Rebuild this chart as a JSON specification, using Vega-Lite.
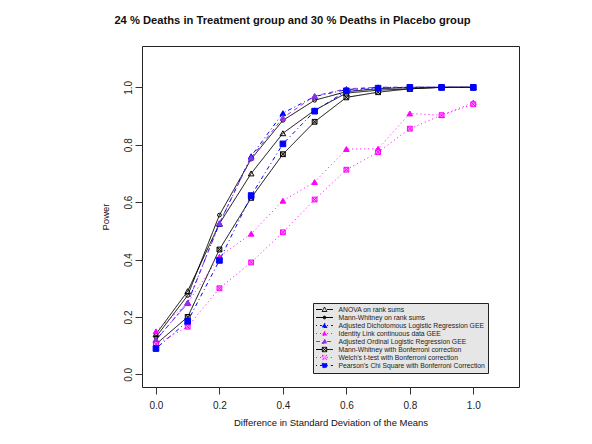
{
  "$schema": "https://vega.github.io/schema/vega-lite/v6.json",
  "width": 377,
  "height": 341,
  "autosize": {"type": "none"},
  "padding": {"left": 142, "top": 46, "right": 73, "bottom": 57},
  "background": "white",
  "title": {"text": "24 % Deaths in Treatment group and  30 % Deaths in Placebo group", "font": "Liberation Sans", "fontSize": 11.2, "fontWeight": "bold", "color": "#111", "anchor": "middle", "dx": -38, "offset": 20},
  "config": {
    "view": {"stroke": "#222", "strokeWidth": 1},
    "font": "Liberation Sans",
    "axis": {"grid": false, "domain": false, "tickColor": "#333", "tickSize": 7, "labelColor": "#222", "titleColor": "#111", "labelFont": "Liberation Sans", "titleFont": "Liberation Sans", "labelFontSize": 10, "titleFontSize": 9.5, "titleFontWeight": "normal"}
  },
  "data": {"values": [
    {"s": "ANOVA on rank sums", "x": 0, "y": 0.14}, {"s": "ANOVA on rank sums", "x": 0.1, "y": 0.29}, {"s": "ANOVA on rank sums", "x": 0.2, "y": 0.525}, {"s": "ANOVA on rank sums", "x": 0.3, "y": 0.70}, {"s": "ANOVA on rank sums", "x": 0.4, "y": 0.84}, {"s": "ANOVA on rank sums", "x": 0.5, "y": 0.92}, {"s": "ANOVA on rank sums", "x": 0.6, "y": 0.98}, {"s": "ANOVA on rank sums", "x": 0.7, "y": 0.99}, {"s": "ANOVA on rank sums", "x": 0.8, "y": 0.995}, {"s": "ANOVA on rank sums", "x": 0.9, "y": 1.0}, {"s": "ANOVA on rank sums", "x": 1.0, "y": 1.0},
    {"s": "Mann-Whitney on rank sums", "x": 0, "y": 0.13}, {"s": "Mann-Whitney on rank sums", "x": 0.1, "y": 0.275}, {"s": "Mann-Whitney on rank sums", "x": 0.2, "y": 0.555}, {"s": "Mann-Whitney on rank sums", "x": 0.3, "y": 0.75}, {"s": "Mann-Whitney on rank sums", "x": 0.4, "y": 0.885}, {"s": "Mann-Whitney on rank sums", "x": 0.5, "y": 0.955}, {"s": "Mann-Whitney on rank sums", "x": 0.6, "y": 0.985}, {"s": "Mann-Whitney on rank sums", "x": 0.7, "y": 0.995}, {"s": "Mann-Whitney on rank sums", "x": 0.8, "y": 1.0}, {"s": "Mann-Whitney on rank sums", "x": 0.9, "y": 1.0}, {"s": "Mann-Whitney on rank sums", "x": 1.0, "y": 1.0},
    {"s": "Adjusted Dichotomous Logistic Regression GEE", "x": 0, "y": 0.12}, {"s": "Adjusted Dichotomous Logistic Regression GEE", "x": 0.1, "y": 0.25}, {"s": "Adjusted Dichotomous Logistic Regression GEE", "x": 0.2, "y": 0.525}, {"s": "Adjusted Dichotomous Logistic Regression GEE", "x": 0.3, "y": 0.76}, {"s": "Adjusted Dichotomous Logistic Regression GEE", "x": 0.4, "y": 0.91}, {"s": "Adjusted Dichotomous Logistic Regression GEE", "x": 0.5, "y": 0.968}, {"s": "Adjusted Dichotomous Logistic Regression GEE", "x": 0.6, "y": 0.992}, {"s": "Adjusted Dichotomous Logistic Regression GEE", "x": 0.7, "y": 1.0}, {"s": "Adjusted Dichotomous Logistic Regression GEE", "x": 0.8, "y": 1.0}, {"s": "Adjusted Dichotomous Logistic Regression GEE", "x": 0.9, "y": 1.0}, {"s": "Adjusted Dichotomous Logistic Regression GEE", "x": 1.0, "y": 1.0},
    {"s": "Identity Link continuous data GEE", "x": 0, "y": 0.15}, {"s": "Identity Link continuous data GEE", "x": 0.1, "y": 0.25}, {"s": "Identity Link continuous data GEE", "x": 0.2, "y": 0.41}, {"s": "Identity Link continuous data GEE", "x": 0.3, "y": 0.49}, {"s": "Identity Link continuous data GEE", "x": 0.4, "y": 0.605}, {"s": "Identity Link continuous data GEE", "x": 0.5, "y": 0.67}, {"s": "Identity Link continuous data GEE", "x": 0.6, "y": 0.785}, {"s": "Identity Link continuous data GEE", "x": 0.7, "y": 0.786}, {"s": "Identity Link continuous data GEE", "x": 0.8, "y": 0.909}, {"s": "Identity Link continuous data GEE", "x": 0.9, "y": 0.903}, {"s": "Identity Link continuous data GEE", "x": 1.0, "y": 0.947},
    {"s": "Adjusted Ordinal Logistic Regression GEE", "x": 0, "y": 0.12}, {"s": "Adjusted Ordinal Logistic Regression GEE", "x": 0.1, "y": 0.248}, {"s": "Adjusted Ordinal Logistic Regression GEE", "x": 0.2, "y": 0.527}, {"s": "Adjusted Ordinal Logistic Regression GEE", "x": 0.3, "y": 0.755}, {"s": "Adjusted Ordinal Logistic Regression GEE", "x": 0.4, "y": 0.894}, {"s": "Adjusted Ordinal Logistic Regression GEE", "x": 0.5, "y": 0.97}, {"s": "Adjusted Ordinal Logistic Regression GEE", "x": 0.6, "y": 0.995}, {"s": "Adjusted Ordinal Logistic Regression GEE", "x": 0.7, "y": 1.0}, {"s": "Adjusted Ordinal Logistic Regression GEE", "x": 0.8, "y": 1.0}, {"s": "Adjusted Ordinal Logistic Regression GEE", "x": 0.9, "y": 1.0}, {"s": "Adjusted Ordinal Logistic Regression GEE", "x": 1.0, "y": 1.0},
    {"s": "Mann-Whitney with Bonferroni correction", "x": 0, "y": 0.105}, {"s": "Mann-Whitney with Bonferroni correction", "x": 0.1, "y": 0.20}, {"s": "Mann-Whitney with Bonferroni correction", "x": 0.2, "y": 0.435}, {"s": "Mann-Whitney with Bonferroni correction", "x": 0.3, "y": 0.615}, {"s": "Mann-Whitney with Bonferroni correction", "x": 0.4, "y": 0.767}, {"s": "Mann-Whitney with Bonferroni correction", "x": 0.5, "y": 0.88}, {"s": "Mann-Whitney with Bonferroni correction", "x": 0.6, "y": 0.965}, {"s": "Mann-Whitney with Bonferroni correction", "x": 0.7, "y": 0.983}, {"s": "Mann-Whitney with Bonferroni correction", "x": 0.8, "y": 0.995}, {"s": "Mann-Whitney with Bonferroni correction", "x": 0.9, "y": 1.0}, {"s": "Mann-Whitney with Bonferroni correction", "x": 1.0, "y": 1.0},
    {"s": "Welch's t-test with Bonferroni correction", "x": 0, "y": 0.105}, {"s": "Welch's t-test with Bonferroni correction", "x": 0.1, "y": 0.166}, {"s": "Welch's t-test with Bonferroni correction", "x": 0.2, "y": 0.30}, {"s": "Welch's t-test with Bonferroni correction", "x": 0.3, "y": 0.39}, {"s": "Welch's t-test with Bonferroni correction", "x": 0.4, "y": 0.495}, {"s": "Welch's t-test with Bonferroni correction", "x": 0.5, "y": 0.609}, {"s": "Welch's t-test with Bonferroni correction", "x": 0.6, "y": 0.713}, {"s": "Welch's t-test with Bonferroni correction", "x": 0.7, "y": 0.774}, {"s": "Welch's t-test with Bonferroni correction", "x": 0.8, "y": 0.856}, {"s": "Welch's t-test with Bonferroni correction", "x": 0.9, "y": 0.903}, {"s": "Welch's t-test with Bonferroni correction", "x": 1.0, "y": 0.941},
    {"s": "Pearson's Chi Square with Bonferroni Correction", "x": 0, "y": 0.09}, {"s": "Pearson's Chi Square with Bonferroni Correction", "x": 0.1, "y": 0.185}, {"s": "Pearson's Chi Square with Bonferroni Correction", "x": 0.2, "y": 0.397}, {"s": "Pearson's Chi Square with Bonferroni Correction", "x": 0.3, "y": 0.623}, {"s": "Pearson's Chi Square with Bonferroni Correction", "x": 0.4, "y": 0.803}, {"s": "Pearson's Chi Square with Bonferroni Correction", "x": 0.5, "y": 0.917}, {"s": "Pearson's Chi Square with Bonferroni Correction", "x": 0.6, "y": 0.988}, {"s": "Pearson's Chi Square with Bonferroni Correction", "x": 0.7, "y": 0.997}, {"s": "Pearson's Chi Square with Bonferroni Correction", "x": 0.8, "y": 1.0}, {"s": "Pearson's Chi Square with Bonferroni Correction", "x": 0.9, "y": 1.0}, {"s": "Pearson's Chi Square with Bonferroni Correction", "x": 1.0, "y": 1.0}
  ]},
  "encoding": {
    "x": {"field": "x", "type": "quantitative", "scale": {"domain": [-0.044, 1.144], "nice": false, "zero": false},
      "axis": {"values": [0, 0.2, 0.4, 0.6, 0.8, 1.0], "format": ".1f", "labelPadding": 6, "title": "Difference in Standard Deviation of the Means", "titlePadding": 7}},
    "y": {"field": "y", "type": "quantitative", "scale": {"domain": [-0.044, 1.144], "nice": false, "zero": false},
      "axis": {"values": [0, 0.2, 0.4, 0.6, 0.8, 1.0], "format": ".1f", "labelAngle": -90, "labelAlign": "center", "labelBaseline": "bottom", "labelPadding": 2, "title": "Power", "titlePadding": 13}}
  },
  "layer": [
    {
      "mark": {"type": "line", "strokeWidth": 1},
      "encoding": {
        "color": {"field": "s", "type": "nominal",
          "scale": {"domain": ["ANOVA on rank sums", "Mann-Whitney on rank sums", "Adjusted Dichotomous Logistic Regression GEE", "Identity Link continuous data GEE", "Adjusted Ordinal Logistic Regression GEE", "Mann-Whitney with Bonferroni correction", "Welch's t-test with Bonferroni correction", "Pearson's Chi Square with Bonferroni Correction"],
            "range": ["black", "black", "blue", "magenta", "#9030e0", "black", "magenta", "blue"]},
          "legend": {"title": null, "orient": "none", "legendX": 171, "legendY": 257, "fillColor": "#e6e6e6", "strokeColor": "#222", "padding": 3, "labelFontSize": 6.8, "labelColor": "#222", "labelFont": "Liberation Sans", "rowPadding": -1, "symbolSize": 30, "symbolOffset": 5, "labelOffset": 10.5, "labelLimit": 300, "symbolStrokeWidth": 1,
            "encode": {"symbols": {"update": {
              "shape": {"signal": "['M-3.1,0L-0.95,0M0.95,0L3.1,0M0,-0.9L0.9,0.7L-0.9,0.7Z', 'M-3.1,0L3.1,0M0.5,0A0.5,0.5 0 1,1 -0.5,0A0.5,0.5 0 1,1 0.5,0', 'M-3.1,0L-0.95,0M0.95,0L3.1,0M0,-0.9L0.9,0.7L-0.9,0.7Z', 'M-3.1,0L-0.95,0M0.95,0L3.1,0M0,-0.9L0.9,0.7L-0.9,0.7Z', 'M-3.1,0L-0.95,0M0.95,0L3.1,0M0,-0.9L0.9,0.7L-0.9,0.7Z', 'M-3.1,0L-0.85,0M0.85,0L3.1,0M-0.8,-0.8L0.8,-0.8L0.8,0.8L-0.8,0.8ZM-0.8,-0.8L0.8,0.8M0.8,-0.8L-0.8,0.8', 'M-3.1,0L-0.85,0M0.85,0L3.1,0M-0.8,-0.8L0.8,-0.8L0.8,0.8L-0.8,0.8ZM-0.8,-0.8L0.8,0.8M0.8,-0.8L-0.8,0.8', 'M-3.1,0L-0.85,0M0.85,0L3.1,0M-0.8,-0.8L0.8,-0.8L0.8,0.8L-0.8,0.8Z'][datum.index]"},
              "fill": {"signal": "['transparent', 'black', 'blue', 'magenta', '#9030e0', '#bbbbbb', '#ff99ff', 'blue'][datum.index]"}
            }}}}
        },
        "strokeDash": {"field": "s", "type": "nominal",
          "scale": {"domain": ["ANOVA on rank sums", "Mann-Whitney on rank sums", "Adjusted Dichotomous Logistic Regression GEE", "Identity Link continuous data GEE", "Adjusted Ordinal Logistic Regression GEE", "Mann-Whitney with Bonferroni correction", "Welch's t-test with Bonferroni correction", "Pearson's Chi Square with Bonferroni Correction"],
            "range": [[1, 0], [1, 0], [1, 3, 4, 3], [1, 3], [4, 4], [1, 0], [1, 3], [1, 3, 4, 3]]},
          "legend": {"title": null, "orient": "none", "legendX": 171, "legendY": 257, "fillColor": "#e6e6e6", "strokeColor": "#222", "padding": 3, "labelFontSize": 6.8, "labelColor": "#222", "labelFont": "Liberation Sans", "rowPadding": -1, "symbolSize": 30, "symbolOffset": 5, "labelOffset": 10.5, "labelLimit": 300, "symbolStrokeWidth": 1,
            "encode": {"symbols": {"update": {
              "shape": {"signal": "['M-3.1,0L-0.95,0M0.95,0L3.1,0M0,-0.9L0.9,0.7L-0.9,0.7Z', 'M-3.1,0L3.1,0M0.5,0A0.5,0.5 0 1,1 -0.5,0A0.5,0.5 0 1,1 0.5,0', 'M-3.1,0L-0.95,0M0.95,0L3.1,0M0,-0.9L0.9,0.7L-0.9,0.7Z', 'M-3.1,0L-0.95,0M0.95,0L3.1,0M0,-0.9L0.9,0.7L-0.9,0.7Z', 'M-3.1,0L-0.95,0M0.95,0L3.1,0M0,-0.9L0.9,0.7L-0.9,0.7Z', 'M-3.1,0L-0.85,0M0.85,0L3.1,0M-0.8,-0.8L0.8,-0.8L0.8,0.8L-0.8,0.8ZM-0.8,-0.8L0.8,0.8M0.8,-0.8L-0.8,0.8', 'M-3.1,0L-0.85,0M0.85,0L3.1,0M-0.8,-0.8L0.8,-0.8L0.8,0.8L-0.8,0.8ZM-0.8,-0.8L0.8,0.8M0.8,-0.8L-0.8,0.8', 'M-3.1,0L-0.85,0M0.85,0L3.1,0M-0.8,-0.8L0.8,-0.8L0.8,0.8L-0.8,0.8Z'][datum.index]"},
              "fill": {"signal": "['transparent', 'black', 'blue', 'magenta', '#9030e0', '#bbbbbb', '#ff99ff', 'blue'][datum.index]"}
            }}}}
        }
      }
    },
    {"transform": [{"filter": {"field": "s", "equal": "ANOVA on rank sums"}}],
     "mark": {"type": "point", "shape": "triangle-up", "filled": false, "stroke": "black", "strokeWidth": 1, "size": 32, "opacity": 1}},
    {"transform": [{"filter": {"field": "s", "equal": "Mann-Whitney on rank sums"}}],
     "mark": {"type": "point", "shape": "circle", "filled": false, "stroke": "black", "strokeWidth": 1, "size": 14, "opacity": 1}},
    {"transform": [{"filter": {"field": "s", "equal": "Adjusted Dichotomous Logistic Regression GEE"}}],
     "mark": {"type": "point", "shape": "triangle-up", "filled": true, "fill": "blue", "stroke": "blue", "strokeWidth": 1, "size": 32, "opacity": 1}},
    {"transform": [{"filter": {"field": "s", "equal": "Identity Link continuous data GEE"}}],
     "mark": {"type": "point", "shape": "triangle-up", "filled": true, "fill": "magenta", "stroke": "magenta", "strokeWidth": 1, "size": 32, "opacity": 1}},
    {"transform": [{"filter": {"field": "s", "equal": "Adjusted Ordinal Logistic Regression GEE"}}],
     "mark": {"type": "point", "shape": "triangle-up", "filled": true, "fill": "#9030e0", "stroke": "#9030e0", "strokeWidth": 1, "size": 32, "opacity": 1}},
    {"transform": [{"filter": {"field": "s", "equal": "Mann-Whitney with Bonferroni correction"}}],
     "mark": {"type": "point", "shape": "M-0.8,-0.8L0.8,-0.8L0.8,0.8L-0.8,0.8ZM-0.8,-0.8L0.8,0.8M0.8,-0.8L-0.8,0.8", "filled": true, "fill": "#bbbbbb", "stroke": "black", "strokeWidth": 1, "size": 36, "opacity": 1}},
    {"transform": [{"filter": {"field": "s", "equal": "Welch's t-test with Bonferroni correction"}}],
     "mark": {"type": "point", "shape": "M-0.8,-0.8L0.8,-0.8L0.8,0.8L-0.8,0.8ZM-0.8,-0.8L0.8,0.8M0.8,-0.8L-0.8,0.8", "filled": true, "fill": "#ff99ff", "stroke": "magenta", "strokeWidth": 1, "size": 36, "opacity": 1}},
    {"transform": [{"filter": {"field": "s", "equal": "Pearson's Chi Square with Bonferroni Correction"}}],
     "mark": {"type": "point", "shape": "square", "filled": true, "fill": "blue", "stroke": "blue", "strokeWidth": 1, "size": 32, "opacity": 1}},
    {
      "data": {"values": [{"t": "N150mm4r5cp50D30TXD24l10rl00RD2006l101e"}]},
      "mark": {"type": "text", "fontSize": 4.8, "color": "#333", "baseline": "middle", "align": "center"},
      "encoding": {"text": {"field": "t", "type": "nominal"}, "x": {"datum": 0.705, "type": "quantitative"}, "y": {"datum": -0.03, "type": "quantitative"}}
    },
    {
      "data": {"values": [{"t": "Sample size =  150,  Outcomes measures =  4,  Cutpoint for dichotomization =  0.5,  Iterations =  1000"}]},
      "mark": {"type": "text", "fontSize": 6, "color": "#333", "baseline": "middle", "align": "center"},
      "encoding": {"text": {"field": "t", "type": "nominal"}, "x": {"datum": 0.55, "type": "quantitative"}, "y": {"datum": -0.22, "type": "quantitative"}}
    }
  ]
}
